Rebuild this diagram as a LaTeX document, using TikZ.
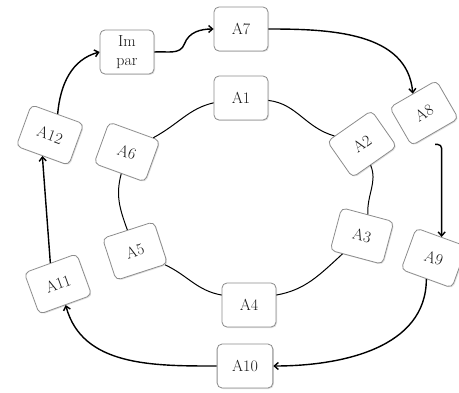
\documentclass[tikz,border=0pt]{standalone}
\usetikzlibrary{arrows.meta,shadows}

\tikzset{
  blk/.style={draw=black!45, line width=0.8pt, fill=white, rounded corners=5pt,
    minimum width=54pt, minimum height=44pt, inner xsep=15pt, inner ysep=1pt,
    align=center, text=black!90, font=\fontsize{16}{19}\selectfont,
    drop shadow={shadow xshift=1pt, shadow yshift=-1pt, opacity=0.25}},
  ring/.style={line width=1pt},
  flow/.style={line width=1.4pt, -{Straight Barb[length=4pt,width=7pt]}}
}

\begin{document}
\begin{tikzpicture}[x=1pt,y=1pt]
    \useasboundingbox (0,0) rectangle (459,392);

    % boxes
    \foreach \n/\x/\y/\r in {A1/241/294/0, A2/362/248/35, A3/362/156/-15, A4/249/87/0,
        A5/135/141/18, A6/127/240/-20, A7/241/363/0, A8/424/279/30, A9/434/134/-20,
        A10/245/26/0, A11/58/108/20, A12/50/257/-20} {
        \node[blk, rotate=\r] (\n) at (\x,\y) {\n};
    }
    \node[blk, inner xsep=6pt] (Impar) at (127,340) {Im\\par};

    % inner ring
    \draw[ring] (A1.-5) to[out=-7, in=145] (A2);
    \draw[ring] (A2) to[out=-86, in=92] (A3.north);
    \draw[ring] (A3) to[out=-130, in=10] (A4.20);
    \draw[ring] (A4.160) to[out=170, in=-35] (A5);
    \draw[ring] (A5) to[out=101, in=-95] (A6);
    \draw[ring] (A6) to[out=40, in=-167] (A1.190);

    % outer ring
    \draw[flow] (A12.north) to[out=85, in=195] (Impar.west);
    \draw[flow] (Impar.east) to[out=5, in=-110] ++(30,8) to[out=70, in=180] (A7.west);
    \draw[flow] (A7.east) to[out=0, in=95] (A8.north);
    \draw[flow, rounded corners=4pt] ([yshift=-12pt]A8.south) -| (A9.north);
    \draw[flow] (A9.south) to[out=-90, in=0] (A10.east);
    \draw[flow] (A10.west) to[out=180, in=-75] (A11.south);
    \draw[flow] (A11.north) -- (A12.south);
\end{tikzpicture}
\end{document}
